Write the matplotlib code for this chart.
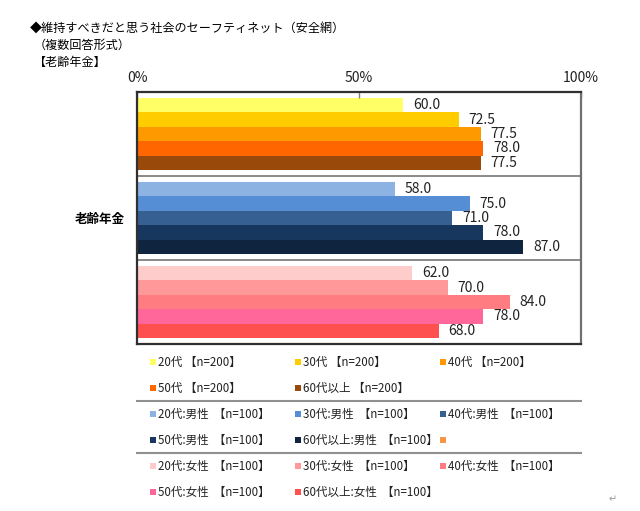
import numpy as np
import matplotlib.pyplot as plt

plt.rcParams['font.family'] = ['Noto Sans CJK JP', 'DejaVu Sans']

#----------------------------------------------------------------------------------------------------------------------
# Data

title1 = "◆維持すべきだと思う社会のセーフティネット（安全網）"
title2 = "（複数回答形式）"
title3 = "【老齢年金】"
category = "老齢年金"

labels_all = ["20代 【n=200】", "30代 【n=200】", "40代 【n=200】", "50代 【n=200】", "60代以上 【n=200】"]
labels_male = ["20代:男性  【n=100】", "30代:男性  【n=100】", "40代:男性  【n=100】",
               "50代:男性  【n=100】", "60代以上:男性  【n=100】"]
labels_female = ["20代:女性  【n=100】", "30代:女性  【n=100】", "40代:女性  【n=100】",
                 "50代:女性  【n=100】", "60代以上:女性  【n=100】"]

values_all = [60.0, 72.5, 77.5, 78.0, 77.5]
values_male = [58.0, 75.0, 71.0, 78.0, 87.0]
values_female = [62.0, 70.0, 84.0, 78.0, 68.0]

colors_all = ["#FFFF66", "#FFCC00", "#FF9900", "#FF6600", "#99490A"]
colors_male = ["#8DB3E2", "#558ED5", "#376092", "#17375E", "#0F243E"]
colors_female = ["#FFCCCC", "#FF9999", "#FF7C80", "#FF6699", "#FF5050"]

groups = [(labels_all, values_all, colors_all),
          (labels_male, values_male, colors_male),
          (labels_female, values_female, colors_female)]

#----------------------------------------------------------------------------------------------------------------------
# Chart

fig = plt.figure(figsize=(6.4, 5.11), dpi=100)
ax = fig.add_axes([137 / 640, 1 - 344 / 511, 444 / 640, 252 / 511])

G = 5.8     # group span
gap = 0.4   # gap above first bar in group

for g, (labs, vals, cols) in enumerate(groups):
    y = g * G + gap + np.arange(len(vals)) + 0.5
    ax.barh(y, vals, height=1.0, color=cols, edgecolor='none')
    for yy, v in zip(y, vals):
        ax.annotate(f"{v:.1f}", xy=(v, yy), xytext=(7, 0), textcoords='offset points',
                    va='center', ha='left', fontsize=10, color='#222222')

for g in range(1, len(groups)):
    ax.axhline(g * G, color='#808080', lw=1.3)

ax.set_xlim(0, 100)
ax.set_ylim(len(groups) * G, 0)
ax.set_xticks([0, 50, 100])
ax.set_xticklabels(["0%", "50%", "100%"])
ax.xaxis.tick_top()
ax.tick_params(axis='x', direction='in', length=4, width=1, color='#808080', pad=5,
               labelsize=10, labelcolor='#222222')
ax.set_yticks([1.5 * G])
ax.set_yticklabels([category], fontsize=9, fontweight='bold')
ax.tick_params(axis='y', length=0, pad=9)

for s in ['top', 'bottom', 'left']:
    ax.spines[s].set_color('#303030')
    ax.spines[s].set_linewidth(1.6)
ax.spines['right'].set_color('#707070')
ax.spines['right'].set_linewidth(1.6)

#----------------------------------------------------------------------------------------------------------------------
# Titles and legend (pixel coordinates overlay)

ov = fig.add_axes([0, 0, 1, 1], zorder=-1)
ov.set_xlim(0, 640)
ov.set_ylim(511, 0)
ov.axis('off')

ov.text(30, 28, title1, fontsize=8.7, va='center', ha='left')
ov.text(34, 45, title2, fontsize=8.7, va='center', ha='left')
ov.text(34, 62, title3, fontsize=8.7, va='center', ha='left')

col_x = [153, 298, 443]
row_y = [362, 388, 414, 440, 466, 492]
sep_y = [401, 453]

for g, (labs, vals, cols) in enumerate(groups):
    for i, (lab, c) in enumerate(zip(labs, cols)):
        x = col_x[i % 3]
        y = row_y[g * 2 + i // 3]
        ov.scatter([x], [y], marker='s', s=14, color=c, linewidths=0)
        ov.text(x + 5, y, lab, fontsize=8.3, va='center', ha='left', color='#222222')

# stray marker in the second group
ov.scatter([col_x[2]], [row_y[3]], marker='s', s=14, color='#F79646', linewidths=0)

for y in sep_y:
    ov.plot([137, 581], [y, y], color='#909090', lw=1.5)

ov.text(613, 499, "↵", fontsize=7, color='#999999', va='center', ha='center')

fig.savefig("out.png", dpi=100)
